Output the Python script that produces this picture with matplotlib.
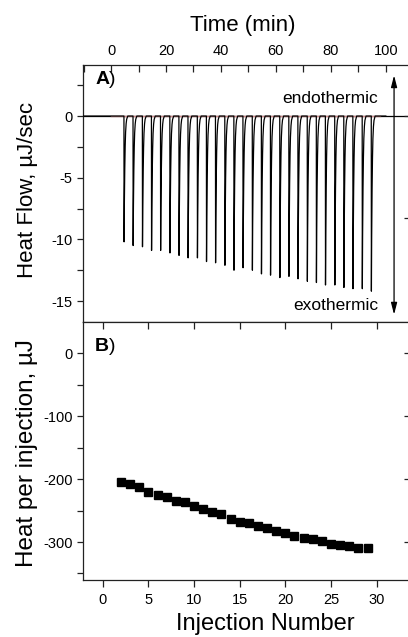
import numpy as np
import matplotlib
matplotlib.use("Agg")
import matplotlib.pyplot as plt
from matplotlib.ticker import MultipleLocator

plt.rcParams['font.family'] = ['Liberation Sans', 'DejaVu Sans']

# ---- data ----
inj_time = [4.7, 8.0, 11.4, 14.7, 18.0, 21.4, 24.7, 28.0, 31.4, 34.7,
            38.0, 41.4, 44.7, 48.0, 51.4, 54.7, 58.0, 61.4, 64.7, 68.0,
            71.4, 74.7, 78.0, 81.4, 84.7, 88.0, 91.4, 94.7]
peak_depth = [-10.2, -10.5, -10.6, -10.9, -10.9, -11.1, -11.3, -11.5, -11.5, -11.8,
              -11.9, -12.1, -12.5, -12.3, -12.5, -12.8, -12.9, -13.1, -13.0, -13.2,
              -13.4, -13.5, -13.7, -13.7, -13.9, -14.0, -14.0, -14.2]
# normalised shape of one injection peak (minutes after injection, fraction of depth)
peak_dt = [0.0, 0.05, 0.15, 0.3, 0.45, 0.6, 0.8, 1.0, 1.4]
peak_frac = [0.0, 1.0, 0.7, 0.42, 0.24, 0.13, 0.06, 0.025, 0.0]
baseline_range = [0.0, 97.8]

inj_number = list(range(2, 30))
heat_per_inj = [-204, -208, -213, -220, -226, -229, -235, -237, -242, -248,
                -253, -256, -263, -268, -269, -275, -278, -282, -285, -290,
                -294, -295, -298, -303, -304, -307, -309, -310]

# ---- build the thermogram trace from the peak data ----
t_trace = [-10.0]
y_trace = [0.0]
for t0, d in zip(inj_time, peak_depth):
    for dt, f in zip(peak_dt, peak_frac):
        t_trace.append(t0 + dt)
        y_trace.append(d * f)
t_trace.append(100.0)
y_trace.append(0.0)

W, H = 408, 637
fig = plt.figure(figsize=(W / 100, H / 100), dpi=100)

def rect(l, t, r, b):
    return [l / W, 1 - b / H, (r - l) / W, (b - t) / H]

spine_col = '#222222'
axA = fig.add_axes(rect(83, 65, 410, 322))
axB = fig.add_axes(rect(83, 322, 410, 580))

for ax in (axA, axB):
    for s in ax.spines.values():
        s.set_color(spine_col)
        s.set_linewidth(0.9)

# ---- panel A ----
axA.axhline(0, color='black', lw=0.9, zorder=1)
axA.plot(baseline_range, [0, 0], color='#cf8a8a', lw=1.0, zorder=2)
axA.plot(t_trace, y_trace, color='black', lw=0.9, zorder=3)
axA.set_xlim(-10.2, 108.8)
axA.set_ylim(-16.7, 4.14)
axA.xaxis.tick_top()
axA.xaxis.set_major_locator(MultipleLocator(20))
axA.xaxis.set_minor_locator(MultipleLocator(10))
axA.yaxis.set_minor_locator(MultipleLocator(2.5))
axA.tick_params(axis='x', which='both', direction='in', length=5, width=0.9,
                top=True, bottom=False, labelsize=10.5, pad=5, color=spine_col)
axA.tick_params(axis='y', which='both', direction='out', length=4, width=0.9,
                labelsize=10.5, color=spine_col)
axA.set_yticks([0, -5, -10, -15])
axA.set_yticklabels(['0', '-5', '-10', '-15'])
axA.xaxis.set_label_position('top')
axA.set_xlabel('Time (min)', fontsize=16)
axA.xaxis.set_label_coords(0.489, 1.152)
axA.xaxis.label.set_va('center')
axA.set_ylabel('Heat Flow, µJ/sec', fontsize=16)
axA.yaxis.set_label_coords(-0.171, 0.514)
axA.yaxis.label.set_va('center')

axA_r = axA.twinx()
axA_r.set_ylim(axA.get_ylim())
axA_r.set_yticks([0, -8.3])
axA_r.tick_params(axis='y', direction='in', length=4, width=0.9, labelright=False,
                  color=spine_col)
for s in axA_r.spines.values():
    s.set_visible(False)

axA.text(97.2, 1.46, 'endothermic', ha='right', va='center', fontsize=12.5)
axA.text(97.2, -15.4, 'exothermic', ha='right', va='center', fontsize=12.5)
axA.annotate('', xy=(103, 3.3), xytext=(103, -16.1),
             arrowprops=dict(arrowstyle='<|-|>,head_length=0.7,head_width=0.18',
                             color='black', lw=0.9, shrinkA=0, shrinkB=0))
tA = axA.text(0.037, 0.942, 'A', transform=axA.transAxes, fontsize=14,
              fontweight='bold', ha='left', va='center')
axA.annotate(')', xy=(1, 0.5), xycoords=tA, ha='left', va='center', fontsize=14)

# ---- panel B ----
axB.plot(inj_number, heat_per_inj, 's', color='black', markersize=6)
axB.set_xlim(-2.16, 33.65)
axB.set_ylim(-360.4, 49.8)
axB.xaxis.set_major_locator(MultipleLocator(5))
axB.set_yticks([0, -100, -200, -300])
axB.set_yticklabels(['0', '-100', '-200', '-300'])
axB.yaxis.set_minor_locator(MultipleLocator(50))
axB.tick_params(axis='x', which='both', direction='out', length=5, width=0.9,
                labelsize=10.5, pad=4, color=spine_col)
axB.tick_params(axis='x', which='both', top=True)
axB.tick_params(axis='y', which='both', direction='out', length=4, width=0.9,
                labelsize=10.5, color=spine_col)
axB.yaxis.set_tick_params(which='major', right=True)
# top and right ticks point inward
for tick in axB.xaxis.get_major_ticks():
    tick.tick2line.set_marker(matplotlib.lines.TICKDOWN)
for tick in axB.yaxis.get_major_ticks():
    tick.tick2line.set_marker(matplotlib.lines.TICKLEFT)
axB.set_xlabel('Injection Number', fontsize=17)
axB.xaxis.set_label_coords(0.557, -0.172)
axB.xaxis.label.set_va('center')
axB.set_ylabel('Heat per injection, µJ', fontsize=17.5)
axB.yaxis.set_label_coords(-0.171, 0.492)
axB.yaxis.label.set_va('center')
tB = axB.text(0.037, 0.905, 'B', transform=axB.transAxes, fontsize=14,
              fontweight='bold', ha='left', va='center')
axB.annotate(')', xy=(1, 0.5), xycoords=tB, ha='left', va='center', fontsize=14)

fig.savefig('out.png', dpi=100)
